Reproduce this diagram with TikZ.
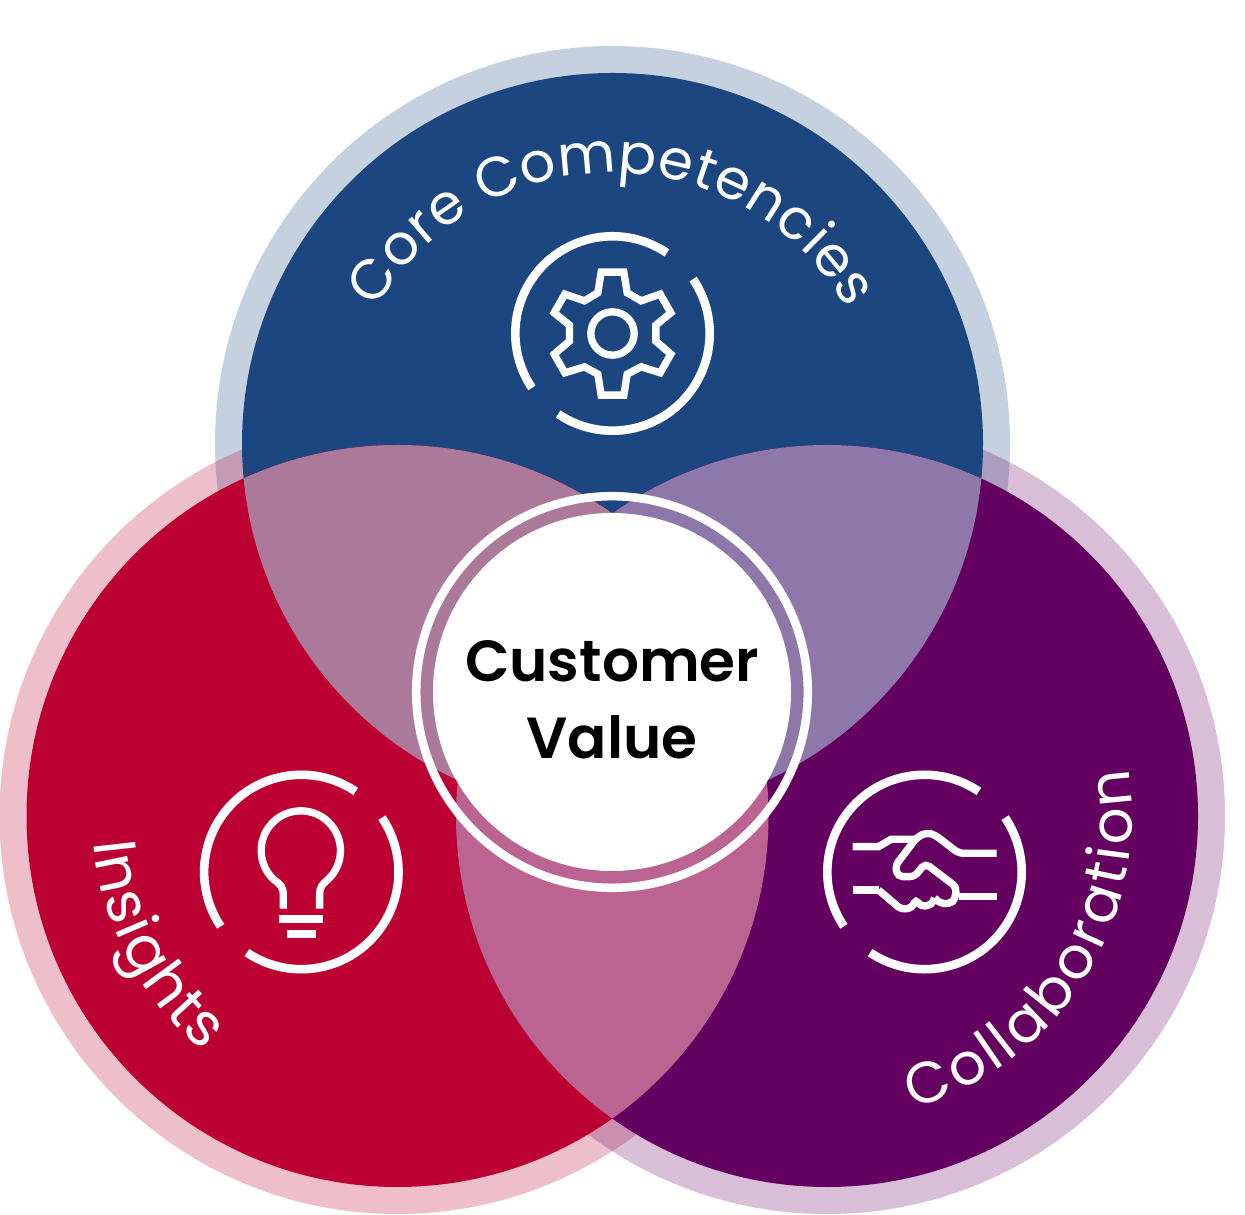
\documentclass[tikz,border=0pt]{standalone}
\usepackage{fontspec}
\usetikzlibrary{decorations.text}
\newfontfamily\labelfont{Poppins}
\newfontfamily\valuefont{Poppins SemiBold}
\definecolor{myblue}{HTML}{1C4680}
\definecolor{myred}{HTML}{BC0031}
\definecolor{myplum}{HTML}{640060}
\definecolor{lensbr}{HTML}{AB7A9A}
\definecolor{lensbp}{HTML}{8E78A9}
\definecolor{lensrp}{HTML}{BC6491}

\begin{document}
\begin{tikzpicture}[x=0.5pt,y=0.5pt]
\tikzset{HaloStyle/.style ={fill opacity=.25}}
\tikzset{RingStyle/.style ={draw=white, line width=4.3pt}}
\tikzset{IconStyle/.style ={draw=white, line width=3.67pt, line join=miter}}
\tikzset{ArcText/.style 2 args={decorate, decoration={text along path, text align=fit to path, text color=white, text={|\labelfont\fontsize{#1}{#1}\selectfont|#2}}}}
\useasboundingbox (0,0) rectangle (1245,1214);
\coordinate (core) at (612.5,770.5);
\coordinate (insights) at (397.5,398);
\coordinate (collab) at (827,398);
\coordinate (center) at (612,522);
\coordinate (gearicon) at (612.5,880.5);
\coordinate (bulbicon) at (301.3,342);
\coordinate (handicon) at (924.5,342);
\fill[myblue, HaloStyle] (core) circle (397.5);
\fill[myred, HaloStyle] (insights) circle (398);
\fill[myplum, HaloStyle] (collab) circle (398);
\fill[myblue] (core) circle (370.5);
\fill[myred] (insights) circle (371);
\fill[myplum] (collab) circle (371);
\begin{scope}
\clip (core) circle (370.5);
\fill[lensbr] (insights) circle (371);
\fill[lensbp] (collab) circle (371);
\end{scope}
\begin{scope}
\clip (insights) circle (371);
\fill[lensrp] (collab) circle (371);
\end{scope}
\fill[white] (center) circle (179);
\draw[white, line width=4.25pt] (center) circle (195.8);
\node (value) at (612,514) [align=center, font=\valuefont\fontsize{29}{38.75}\selectfont] {Customer\\Value};
\path[ArcText={28}{Core Competencies}] (612,769) ++(150:272) arc[start angle=150, end angle=30, radius=272];
\path[ArcText={30}{Insights}] (insights) ++(185:305) arc[start angle=185, end angle=230.5, radius=305];
\path[ArcText={29}{Collaboration}] (collab) ++(-73.5:305) arc[start angle=-73.5, end angle=9, radius=305];
\draw[RingStyle] (gearicon) ++(56:97.2) arc[start angle=56, end angle=214, radius=97.2];
\draw[RingStyle] (gearicon) ++(236:97.2) arc[start angle=236, end angle=394, radius=97.2];
\draw[RingStyle] (bulbicon) ++(56:97.2) arc[start angle=56, end angle=214, radius=97.2];
\draw[RingStyle] (bulbicon) ++(236:97.2) arc[start angle=236, end angle=394, radius=97.2];
\draw[RingStyle] (handicon) ++(56:97.2) arc[start angle=56, end angle=214, radius=97.2];
\draw[RingStyle] (handicon) ++(236:97.2) arc[start angle=236, end angle=394, radius=97.2];
\begin{scope}[shift={(gearicon)}, x=0.1667pt, y=0.1667pt]
\draw[IconStyle] (-34,184) -- (34,184) -- (44,122) -- (86,98) -- (143,118) -- (175,62) -- (130,25) -- (130,-23) -- (175,-62) -- (143,-118) -- (86,-100) -- (44,-122) -- (34,-185) -- (-34,-185) -- (-44,-122) -- (-84,-100) -- (-143,-118) -- (-175,-62) -- (-129,-23) -- (-129,25) -- (-175,62) -- (-143,118) -- (-84,98) -- (-44,122) -- cycle;
\draw[IconStyle] (0,0) circle (65);
\end{scope}
\begin{scope}[shift={(bulbicon)}, x=0.1667pt, y=0.1667pt]
\draw[IconStyle] (-54,-110) -- (-54,-65) .. controls (-54,-45) and (-65,-35) .. (-81,-24) arc[start angle=228, end angle=-48, radius=119] .. controls (65,-35) and (55,-45) .. (55,-65) -- (55,-110);
\draw[IconStyle] (-66,-141) -- (66,-141);
\draw[IconStyle] (-43,-185.5) -- (44,-185.5);
\end{scope}
\begin{scope}[shift={(handicon)}, x=0.1667pt, y=0.1667pt]
\draw[IconStyle] (-216,76) -- (-138,76) -- (-100,98) -- (-25,98);
\draw[IconStyle, rounded corners=2.5pt] (216,56) -- (103,56) -- (30,112) -- (6,118) -- (-23,104) -- (-88,18) -- (-80,-14) -- (-30,-14) -- (2,26) -- (97,-46) -- (88,-92) -- (50,-96) -- (30,-78);
\draw[IconStyle, rounded corners=2pt] (30,-78) -- (22,-98) -- (-10,-104) -- (-26,-82) -- (-38,-108) -- (-70,-112) -- (-138,-54);
\draw[IconStyle] (-138,-54) -- (-216,-54);
\draw[IconStyle] (102,-74) -- (216,-74);
\end{scope}
\end{tikzpicture}
\end{document}
